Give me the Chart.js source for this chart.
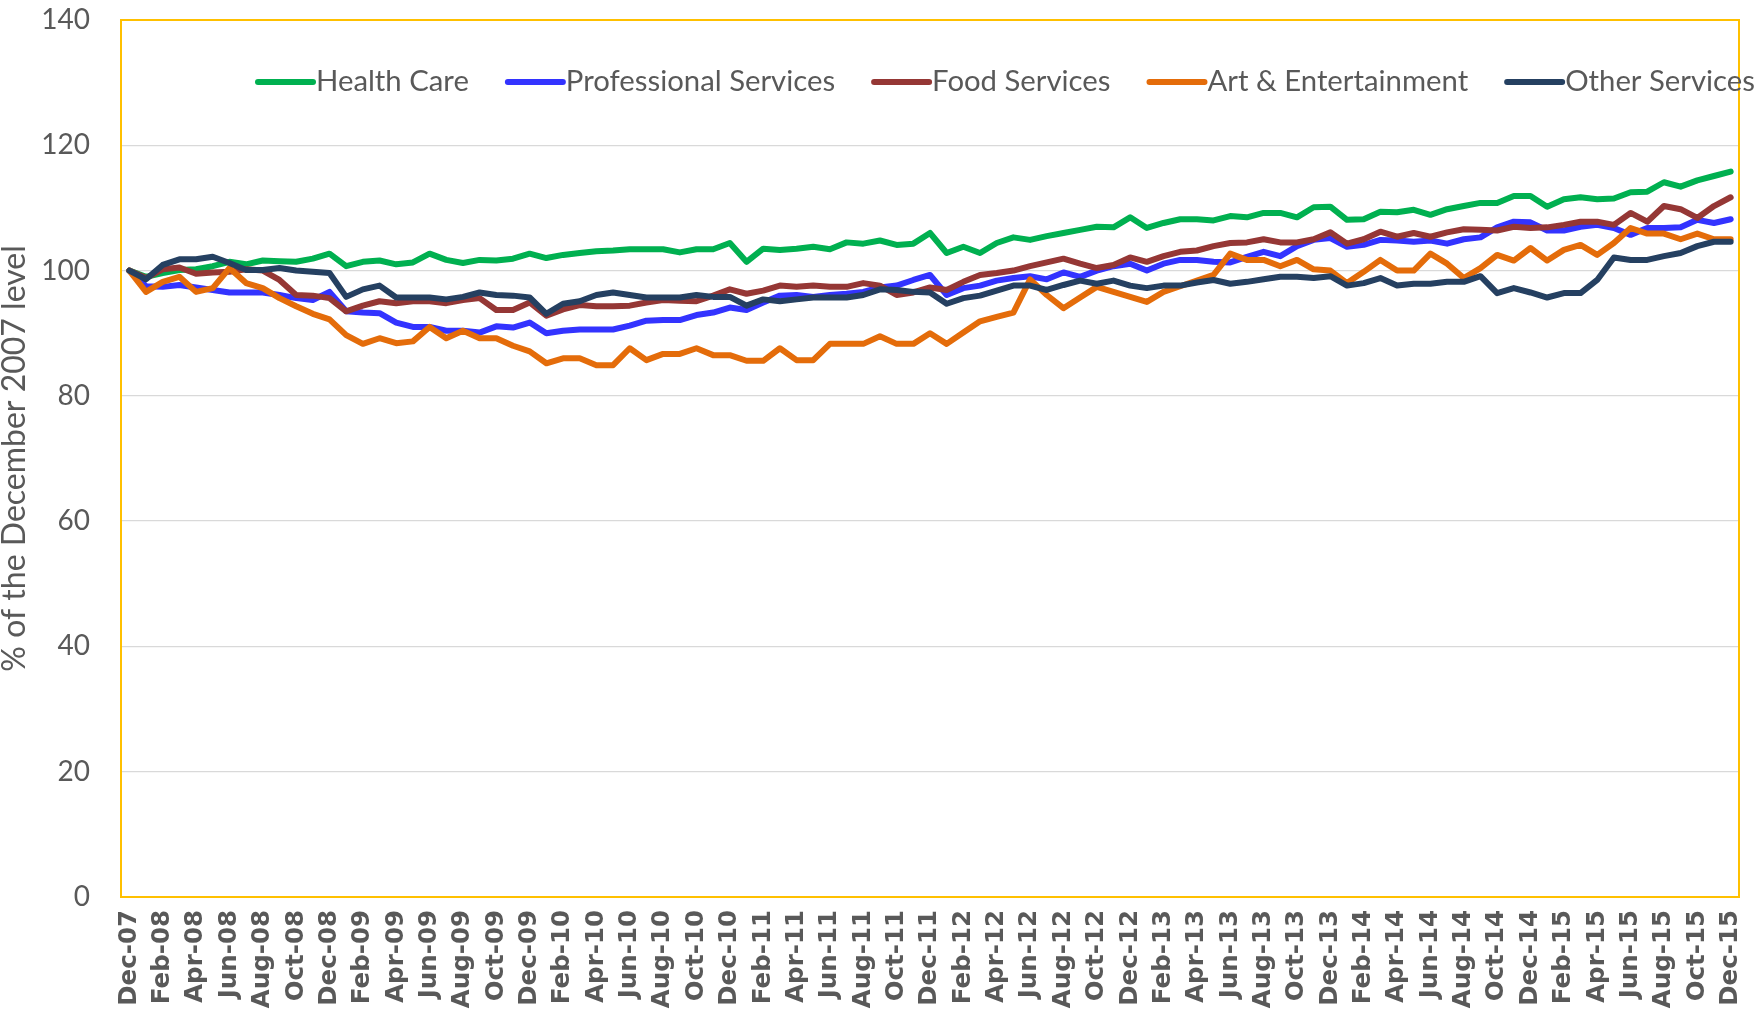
<!DOCTYPE html>
<html>
<head>
<meta charset="utf-8">
<title>Employment by industry, % of December 2007 level</title>
<script src="https://cdn.jsdelivr.net/npm/chart.js@4.4.1/dist/chart.umd.min.js"></script>
<style>
  html, body { margin: 0; padding: 0; background: #fff; }
  #chart { display: block; }
</style>
</head>
<body>
<canvas id="chart" width="1758" height="1017"></canvas>
<script>
// monthly categories, Dec-07 .. Dec-15
const months = [
  'Dec-07',
  'Jan-08','Feb-08','Mar-08','Apr-08','May-08','Jun-08','Jul-08','Aug-08','Sep-08','Oct-08','Nov-08','Dec-08',
  'Jan-09','Feb-09','Mar-09','Apr-09','May-09','Jun-09','Jul-09','Aug-09','Sep-09','Oct-09','Nov-09','Dec-09',
  'Jan-10','Feb-10','Mar-10','Apr-10','May-10','Jun-10','Jul-10','Aug-10','Sep-10','Oct-10','Nov-10','Dec-10',
  'Jan-11','Feb-11','Mar-11','Apr-11','May-11','Jun-11','Jul-11','Aug-11','Sep-11','Oct-11','Nov-11','Dec-11',
  'Jan-12','Feb-12','Mar-12','Apr-12','May-12','Jun-12','Jul-12','Aug-12','Sep-12','Oct-12','Nov-12','Dec-12',
  'Jan-13','Feb-13','Mar-13','Apr-13','May-13','Jun-13','Jul-13','Aug-13','Sep-13','Oct-13','Nov-13','Dec-13',
  'Jan-14','Feb-14','Mar-14','Apr-14','May-14','Jun-14','Jul-14','Aug-14','Sep-14','Oct-14','Nov-14','Dec-14',
  'Jan-15','Feb-15','Mar-15','Apr-15','May-15','Jun-15','Jul-15','Aug-15','Sep-15','Oct-15','Nov-15','Dec-15'
];

const healthCare = [
  100,
  99.0, 99.6, 100.1, 100.2, 100.7, 101.4, 101.0, 101.6, 101.5, 101.4, 101.9, 102.7,
  100.7, 101.4, 101.6, 101.0, 101.3, 102.7, 101.7, 101.2, 101.7, 101.6, 101.9, 102.7,
  102.0, 102.5, 102.8, 103.1, 103.2, 103.4, 103.4, 103.4, 102.9, 103.4, 103.4, 104.4,
  101.4, 103.5, 103.3, 103.5, 103.8, 103.4, 104.5, 104.3, 104.8, 104.1, 104.3, 106.0,
  102.8, 103.8, 102.8, 104.4, 105.3, 104.9, 105.5, 106.0, 106.5, 107.0, 106.9, 108.5,
  106.8, 107.6, 108.2, 108.2, 108.0, 108.7, 108.5, 109.2, 109.2, 108.5, 110.1, 110.2,
  108.1, 108.2, 109.4, 109.3, 109.7, 108.9, 109.8, 110.3, 110.8, 110.8, 111.9, 111.9,
  110.2, 111.4, 111.7, 111.4, 111.5, 112.5, 112.6, 114.1, 113.4, 114.4, 115.1, 115.8
];

const professional = [
  100,
  97.5, 97.4, 97.7, 97.3, 96.9, 96.5, 96.5, 96.5, 96.1, 95.6, 95.3, 96.6,
  93.5, 93.3, 93.2, 91.7, 91.0, 91.0, 90.4, 90.4, 90.1, 91.1, 90.9, 91.7,
  90.0, 90.4, 90.6, 90.6, 90.6, 91.2, 92.0, 92.1, 92.1, 92.9, 93.3, 94.1,
  93.7, 94.9, 96.0, 96.1, 95.8, 96.1, 96.3, 96.6, 97.3, 97.6, 98.5, 99.3,
  96.1, 97.2, 97.6, 98.4, 98.8, 99.1, 98.6, 99.7, 99.0, 100.0, 100.7, 101.1,
  100.0, 101.1, 101.7, 101.7, 101.4, 101.3, 102.2, 103.0, 102.3, 103.9, 104.9, 105.2,
  103.8, 104.1, 104.9, 104.8, 104.6, 104.8, 104.3, 105.0, 105.3, 106.9, 107.8, 107.7,
  106.4, 106.4, 107.0, 107.3, 106.8, 105.7, 106.8, 106.8, 106.9, 108.1, 107.6, 108.2
];

const foodServices = [
  100,
  98.8, 100.2, 100.5, 99.5, 99.7, 99.8, 100.2, 100.0, 98.5, 96.1, 96.0, 95.6,
  93.5, 94.4, 95.1, 94.8, 95.1, 95.1, 94.8, 95.3, 95.6, 93.7, 93.7, 94.9,
  92.8, 93.8, 94.5, 94.3, 94.3, 94.4, 94.9, 95.3, 95.2, 95.1, 96.0, 97.0,
  96.3, 96.8, 97.6, 97.4, 97.6, 97.4, 97.4, 98.0, 97.6, 96.1, 96.5, 97.3,
  96.9, 98.2, 99.3, 99.6, 100.0, 100.7, 101.3, 101.9, 101.1, 100.4, 100.9, 102.1,
  101.4, 102.3, 103.0, 103.2, 103.9, 104.4, 104.5, 105.0, 104.5, 104.5, 105.0, 106.1,
  104.3, 105.0, 106.2, 105.4, 106.0, 105.4, 106.1, 106.6, 106.5, 106.4, 107.0, 106.8,
  106.9, 107.3, 107.8, 107.8, 107.3, 109.2, 107.8, 110.3, 109.8, 108.4, 110.3, 111.7
];

const artEntertainment = [
  100,
  96.6, 98.2, 99.0, 96.6, 97.2, 100.4, 98.0, 97.2, 95.6, 94.3, 93.1, 92.2,
  89.7, 88.3, 89.2, 88.4, 88.7, 91.0, 89.2, 90.4, 89.2, 89.2, 88.0, 87.1,
  85.2, 86.0, 86.0, 84.9, 84.9, 87.6, 85.7, 86.7, 86.7, 87.6, 86.5, 86.5,
  85.6, 85.6, 87.6, 85.7, 85.7, 88.3, 88.3, 88.3, 89.5, 88.3, 88.3, 90.0,
  88.3, 90.1, 91.9, 92.6, 93.3, 98.6, 96.1, 94.0, 95.7, 97.4, 96.6, 95.8,
  95.0, 96.6, 97.5, 98.4, 99.3, 102.7, 101.7, 101.7, 100.7, 101.7, 100.2, 100.0,
  98.0, 99.8, 101.7, 100.0, 100.0, 102.7, 101.1, 98.8, 100.4, 102.5, 101.6, 103.6,
  101.6, 103.3, 104.1, 102.5, 104.4, 106.8, 105.9, 105.9, 105.0, 105.9, 105.0, 105.0
];

const otherServices = [
  100,
  98.6, 100.9, 101.8, 101.8, 102.2, 101.2, 100.1, 100.1, 100.4, 100.0, 99.8, 99.6,
  95.8, 97.0, 97.6, 95.7, 95.7, 95.7, 95.4, 95.8, 96.5, 96.1, 96.0, 95.7,
  93.1, 94.7, 95.1, 96.1, 96.5, 96.1, 95.7, 95.7, 95.7, 96.1, 95.8, 95.8,
  94.4, 95.4, 95.1, 95.4, 95.7, 95.7, 95.7, 96.1, 97.0, 96.9, 96.6, 96.5,
  94.7, 95.6, 96.0, 96.8, 97.6, 97.6, 96.9, 97.7, 98.4, 97.9, 98.4, 97.6,
  97.2, 97.6, 97.6, 98.1, 98.5, 97.9, 98.2, 98.6, 99.0, 99.0, 98.8, 99.1,
  97.6, 98.0, 98.8, 97.6, 97.9, 97.9, 98.2, 98.2, 99.1, 96.4, 97.2, 96.5,
  95.7, 96.4, 96.4, 98.5, 102.1, 101.7, 101.7, 102.3, 102.8, 103.9, 104.6, 104.6
];

const seriesNames = ['Health Care', 'Professional Services', 'Food Services', 'Art & Entertainment', 'Other Services'];
const seriesColors = ['#00B050', '#3333FF', '#953735', '#E46C0A', '#254061'];
const seriesValues = [healthCare, professional, foodServices, artEntertainment, otherServices];

const yTicks = { min: 0, max: 140, step: 20 };
const yTitle = '% of the December 2007 level';

const textGrey = '#595959';

// legend drawn inside the plot area, like the original
const insideLegend = {
  id: 'insideLegend',
  afterDraw(chart) {
    const ctx = chart.ctx;
    let x = 258;
    const y = 82;
    ctx.save();
    ctx.font = '29.3px Lato';
    ctx.textBaseline = 'middle';
    ctx.textAlign = 'left';
    chart.data.datasets.forEach(ds => {
      ctx.strokeStyle = ds.borderColor;
      ctx.lineWidth = 6;
      ctx.lineCap = 'round';
      ctx.beginPath();
      ctx.moveTo(x, y);
      ctx.lineTo(x + 55, y);
      ctx.stroke();
      x += 58;
      ctx.fillStyle = textGrey;
      ctx.fillText(ds.label, x, y);
      x += ctx.measureText(ds.label).width + 39;
    });
    ctx.restore();
  }
};

// gold frame round the plot area
const plotFrame = {
  id: 'plotFrame',
  afterDatasetsDraw(chart) {
    const { left, top, right, bottom } = chart.chartArea;
    const ctx = chart.ctx;
    ctx.save();
    ctx.strokeStyle = '#FFC000';
    ctx.lineWidth = 2;
    ctx.strokeRect(left, top, right - left, bottom - top);
    ctx.restore();
  }
};

const datasets = seriesNames.map((name, i) => ({
  label: name,
  data: seriesValues[i],
  borderColor: seriesColors[i],
  backgroundColor: seriesColors[i],
  borderWidth: 6,
  borderCapStyle: 'round',
  borderJoinStyle: 'round',
  pointRadius: 0,
  tension: 0,
  fill: false,
  order: seriesNames.length - i   // last series on top, as in Excel
}));

new Chart(document.getElementById('chart'), {
  type: 'line',
  data: { labels: months, datasets: datasets },
  options: {
    responsive: false,
    animation: false,
    layout: { padding: { top: 20, right: 19, left: 0, bottom: 0 } },
    plugins: {
      legend: { display: false },
      tooltip: { enabled: false }
    },
    scales: {
      x: {
        offset: true,
        grid: { display: false, drawTicks: false },
        border: { display: false },
        ticks: {
          autoSkip: false,
          minRotation: 90,
          maxRotation: 90,
          padding: 13,
          color: textGrey,
          font: { family: 'DejaVu Sans', size: 24.5, weight: 'bold' },
          callback: function(value, index) {
            return index % 2 === 0 ? this.getLabelForValue(value) : '';
          }
        },
        afterFit: scale => {
          scale.height = 120;
          scale.paddingLeft = 0;
          scale.paddingRight = 0;
        }
      },
      y: {
        min: yTicks.min,
        max: yTicks.max,
        grid: { color: '#D9D9D9', lineWidth: 1.3, drawTicks: false },
        border: { display: false },
        ticks: {
          stepSize: yTicks.step,
          padding: 31,
          color: textGrey,
          font: { family: 'Lato', size: 28 }
        },
        title: {
          display: true,
          text: yTitle,
          color: textGrey,
          padding: 0,
          font: { family: 'Lato', size: 32, lineHeight: 0.9 }
        },
        afterFit: scale => {
          scale.width = 121;
          scale.paddingTop = 0;
          scale.paddingBottom = 0;
        }
      }
    }
  },
  plugins: [plotFrame, insideLegend]
});
</script>
</body>
</html>
